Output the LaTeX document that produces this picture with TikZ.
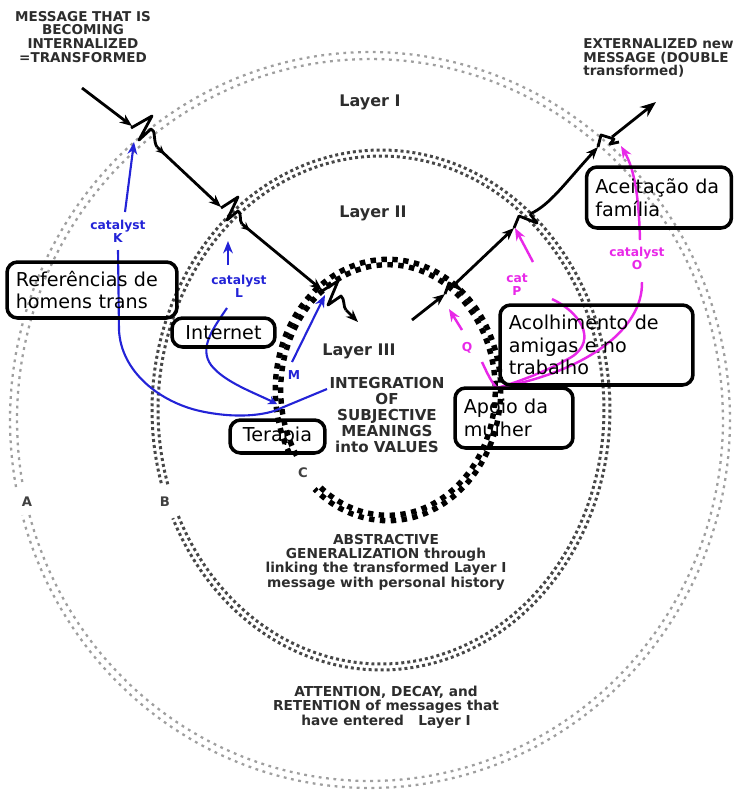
\documentclass[tikz,border=0pt]{standalone}
\usepackage{fontspec}
\setmainfont{DejaVu Sans}
\usetikzlibrary{arrows.meta,decorations.markings}
\definecolor{myblue}{RGB}{35,35,215}
\definecolor{mymag}{RGB}{232,40,232}
\definecolor{lblc}{RGB}{45,45,45}
\begin{document}
\begin{tikzpicture}[x=0.02cm,y=-0.02cm,
  lbl/.style={font=\bfseries\fontsize{7.7}{7.9}\selectfont, text=lblc, align=center, inner sep=0pt},
  laylbl/.style={font=\bfseries\fontsize{9.1}{10}\selectfont, text=lblc, inner sep=0pt},
  midlbl/.style={font=\bfseries\fontsize{8.6}{9.1}\selectfont, text=lblc, align=center, inner sep=0pt},
  lowlbl/.style={font=\bfseries\fontsize{7.8}{8.2}\selectfont, text=lblc, align=center, inner sep=0pt},
  catlbl/.style={font=\bfseries\fontsize{7}{7.4}\selectfont, align=center, inner sep=0pt},
  ringlbl/.style={font=\bfseries\fontsize{7.5}{8}\selectfont, text=black!75, inner sep=0pt},
  box/.style={draw, line width=2pt, rounded corners=6pt, align=left,
    font=\fontsize{10.9}{13}\selectfont, inner xsep=5pt, inner ysep=0pt},
  blk/.style={line width=1.6pt, black},
  bl/.style={line width=1.2pt, myblue},
  mg/.style={line width=1.4pt, mymag},
  tip/.style={-{Stealth[length=7pt,width=5.5pt]}},
  midtip/.style={postaction={decorate}, decoration={markings, mark=at position #1 with {\arrow{Stealth[length=5pt,width=4.5pt]}}}},
  ringA/.style={gray!75, line width=1.3pt, dash pattern=on 1.6pt off 2.6pt},
  ringB/.style={black!72, line width=1.7pt, dash pattern=on 1.7pt off 1.7pt},
  ringC/.style={black, line width=3.1pt, dash pattern=on 3.1pt off 3.1pt},
]
\useasboundingbox (0,0) rectangle (736,796);

% ---------- rings ----------
\draw[ringA] plot[domain=169.5:525, samples=240] ({370+360*cos(\x)},{420+368*sin(\x)});
\draw[ringA, dash phase=2pt] plot[domain=169.5:525, samples=240] ({370+353*cos(\x)},{420+361*sin(\x)});

\draw[ringB] plot[domain=163:515.4, samples=240] ({381+223*cos(\x)},{410+254*sin(\x)});
\draw[ringB, dash phase=1.7pt] plot[domain=163:515.4, samples=240] ({381+229*cos(\x)},{410+260*sin(\x)});

\draw[ringC] plot[domain=148.4:490.7, samples=200] ({388+107.3*cos(\x)},{390+125.3*sin(\x)});
\draw[ringC, dash phase=3.1pt] plot[domain=148.4:490.7, samples=200] ({388+112.7*cos(\x)},{390+130.7*sin(\x)});

% ---------- texts ----------
\node[lbl] (msgin) at (83,37) {MESSAGE THAT IS\\BECOMING\\INTERNALIZED\\=TRANSFORMED};
\node[lbl, align=left, anchor=west] (msgout) at (583,58) {EXTERNALIZED new\\MESSAGE (DOUBLE\\transformed)};
\node[laylbl] (l1) at (370,102) {Layer I};
\node[laylbl] (l2) at (373,213) {Layer II};
\node[laylbl] (l3) at (359,351) {Layer III};
\node[midlbl] (integ) at (387,415) {INTEGRATION\\OF\\SUBJECTIVE\\MEANINGS\\into VALUES};
\node[lowlbl] (abstr) at (386,562) {ABSTRACTIVE\\GENERALIZATION through\\linking the transformed Layer I\\message with personal history};
\node[lowlbl] (atten) at (386,707) {ATTENTION, DECAY, and\\RETENTION of messages that\\have entered~~~Layer I};
\node[ringlbl] (la) at (27,502) {A};
\node[ringlbl] (lb) at (165,502) {B};
\node[ringlbl] (lc) at (303,473) {C};

\node[catlbl, text=myblue] (catK) at (118,231) {catalyst\\K};
\node[catlbl, text=myblue] (catL) at (239,286) {catalyst\\L};
\node[catlbl, text=myblue] (catM) at (294,375) {M};
\node[catlbl, text=mymag] (catQ) at (467,348) {Q};
\node[catlbl, text=mymag] (catP) at (517,285) {cat\\P};
\node[catlbl, text=mymag] (catO) at (637,258) {catalyst\\O};

% ---------- black message path (in) ----------
\coordinate (s0) at (82,88);
\coordinate (s1) at (132,126);
\coordinate (s2) at (157,147);
\coordinate (s3) at (221,207);
\coordinate (s4) at (242,224);
\coordinate (s5) at (322,290);
\coordinate (s6) at (346,310);
\coordinate (s7) at (358,322);
\draw[blk,tip] (s0) -- (s1);
\draw[blk, line join=round] (131,128) -- (152,116) -- (139,140) -- (151,129) .. controls (156,130) and (153,141) .. (s2);
\draw[blk,tip,midtip=0.12] (s2) -- (s3);
\draw[blk, line join=round] (221,208) -- (238,197) -- (227,220) -- (238,211) .. controls (242,213) and (239,221) .. (s4);
\draw[blk,tip,midtip=0.1] (s4) -- (s5);
\draw[blk, line join=round] (322,291) -- (338,281) -- (328,305) -- (341,296) .. controls (345,299) and (343,307) .. (s6);
\draw[blk,tip] (s6) -- (s7);

% ---------- black message path (out) ----------
\coordinate (r0) at (412,320);
\coordinate (r1) at (445,294);
\coordinate (r2) at (455,284);
\coordinate (r3) at (514,228);
\coordinate (r4) at (530,214);
\coordinate (r5) at (598,147);
\coordinate (r6) at (612,137);
\coordinate (r7) at (656,102);
\draw[blk,tip] (r0) -- (r1);
\draw[blk, line join=round] (r1) -- (449,283) -- (460,289) -- (r2);
\draw[blk,tip] (r2) -- (r3);
\draw[blk, line join=round] (r3) -- (519,216) -- (537,223) -- (r4);
\draw[blk,tip] (r4) .. controls (550,205) and (565,183) .. (r5);
\draw[blk, line join=round] (r5) -- (601,135) -- (614,139) -- (610,144) -- (619,142);
\draw[blk,-{Stealth[length=9pt,width=7pt]}] (r6) -- (r7);

% ---------- blue catalysts ----------
\coordinate (kb) at (125,212);
\coordinate (kt) at (134,142);
\coordinate (lb0) at (228,265);
\coordinate (lt) at (228,241);
\coordinate (mb) at (292,362);
\coordinate (mt) at (325,295);
\coordinate (conv) at (274,411);
\coordinate (integL) at (327,389);
\draw[bl,tip] (kb) -- (kt);
\draw[bl,tip] (lb0) -- (lt);
\draw[bl,tip] (mb) -- (mt);
\draw[bl] (118,250) -- (119,330) .. controls (121,372) and (160,402) .. (200,411) .. controls (232,418) and (258,416) .. (conv) -- (integL);
\draw[bl,-{Stealth[length=5pt,width=5pt]}] (227,308) .. controls (212,330) and (199,348) .. (211,365) .. controls (224,382) and (255,393) .. (277,404);

% ---------- magenta catalysts ----------
\coordinate (ob) at (640,240);
\coordinate (ot) at (621,146);
\coordinate (pb) at (533,262);
\coordinate (pt) at (515,228);
\coordinate (qb) at (462,330);
\coordinate (qt) at (449,309);
\coordinate (mconv) at (497,388);
\draw[mg,tip] (ob) .. controls (639,200) and (635,170) .. (ot);
\draw[mg,tip] (pb) -- (pt);
\draw[mg,tip] (qb) -- (qt);
\draw[mg] (642,282) .. controls (643,330) and (585,372) .. (mconv);
\draw[mg] (552,299) .. controls (585,315) and (598,345) .. (566,360) .. controls (545,372) and (515,383) .. (mconv);
\draw[mg] (482,362) .. controls (488,375) and (492,383) .. (mconv);

% ---------- boxes ----------
\node[box, minimum width=3.4cm, minimum height=1.12cm, text width=3.4cm-10pt] (ref) at (92,290) {Referências de\\homens trans};
\node[box, minimum width=2.06cm, minimum height=0.58cm, align=center] (inet) at (223.5,332.5) {Internet};
\node[box, minimum width=1.9cm, minimum height=0.66cm, align=center] (ter) at (277.5,436.5) {Terapia};
\node[box, minimum width=2.9cm, minimum height=1.22cm, text width=2.9cm-10pt] (acei) at (659,197.5) {Aceitação da\\família};
\node[box, minimum width=3.86cm, minimum height=1.6cm, text width=3.86cm-10pt] (acol) at (596.5,345) {Acolhimento de\\amigas e no\\trabalho};
\node[box, minimum width=2.36cm, minimum height=1.2cm, text width=2.36cm-10pt] (apoio) at (514,418) {Apoio da\\mulher};
\end{tikzpicture}
\end{document}
